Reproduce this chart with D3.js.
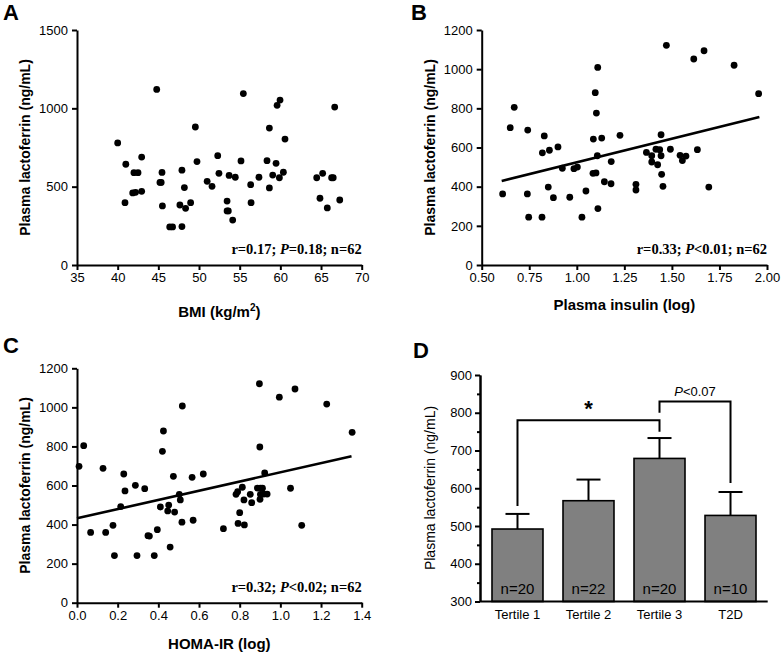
<!DOCTYPE html>
<html>
<head>
<meta charset="utf-8">
<script src="https://cdn.jsdelivr.net/npm/d3@7"></script>
<style>
body{margin:0;background:#fff;}
svg text{font-family:Arial,"Liberation Sans",sans-serif;}
.axis path,.axis line{stroke:#000;stroke-width:2;}
.axis text{font-size:13px;fill:#000;}
</style>
</head>
<body>
<svg id="fig" width="781" height="653"></svg>
<script>
// panel A: BMI vs lactoferrin
var bmiX = [44.8,49.55,40.0,41.0,42.95,42.0,42.5,45.45,49.75,47.9,52.3,52.45,45.2,45.35,48.2,51.0,51.6,41.85,42.2,42.95,40.9,45.5,47.65,48.35,48.97,46.4,46.75,47.9,
  55.45,59.96,59.6,66.68,58.65,60.57,55.16,58.36,59.47,53.7,54.46,57.37,59.06,60.37,59.88,56.35,58.65,64.47,65.2,66.3,66.5,53.45,53.45,53.6,56.4,54.14,64.87,65.77,67.3];
var bmiY = [1121,881,779,643,689,589,589,591,660,605,698,585,527,527,494,534,502,460,464,470,398,377,383,362,398,243,243,245,
  1094,1053,1019,1008,874,804,664,666,649,572,560,560,574,592,557,513,492,557,585,557,557,408,345,345,398,287,426,364,415];

// panel B: insulin (log) vs lactoferrin
var insX = [1.110,1.097,1.103,0.671,0.650,0.742,0.829,1.087,1.131,1.227,0.819,0.856,0.901,1.108,0.924,0.985,1.003,1.181,1.085,1.101,1.145,1.18,0.61,0.74,0.85,0.877,0.963,1.048,1.111,0.747,0.817,1.027,
  1.471,1.669,1.615,1.827,1.956,1.443,1.366,1.394,1.416,1.436,1.443,1.492,1.543,1.574,1.555,1.634,1.394,1.425,1.446,1.311,1.311,1.453,1.694];
var insY = [1009,880,776,805,701,689,659,643,648,662,573,586,603,558,494,492,500,528,468,470,425,415,363,363,398,344,346,378,288,244,244,244,
  1122,1094,1052,1020,875,665,575,558,591,589,558,591,560,556,533,589,526,512,463,412,383,402,398];
var insFitX = [0.605,1.96], insFitY = [429,756];

// panel C: HOMA-IR (log) vs lactoferrin
var homaX = [0.518,0.425,0.42,0.033,0.01,0.128,0.23,0.474,0.566,0.621,0.287,0.333,0.236,0.503,0.508,0.215,0.41,0.451,0.446,0.48,0.516,0.571,0.067,0.141,0.177,0.349,0.356,0.395,0.458,0.184,0.295,0.38,0.72,
  0.897,1.072,0.995,1.228,1.353,0.899,0.923,1.05,0.782,0.79,0.813,0.887,0.902,0.912,0.852,0.902,0.918,0.935,0.90,0.821,0.859,0.8,0.792,0.823,1.105];
var homaY = [1007,879,775,804,698,688,659,647,642,659,601,584,572,555,526,492,490,500,470,464,412,422,360,360,396,343,341,374,285,241,241,241,379,
  1121,1094,1052,1017,872,797,664,586,555,568,591,587,587,586,555,555,556,556,529,526,512,461,406,398,396];
var homaFitX = [0,1.35], homaFitY = [432,750];

// panel D: group means
var groups = ["Tertile 1","Tertile 2","Tertile 3","T2D"];
var means = [492,567,679,528];
var errTop = [532,623,733,590];
var nLabels = ["n=20","n=22","n=20","n=10"];

var svg = d3.select("#fig");

function scatter(o){
  var g = svg.append("g");
  var x = d3.scaleLinear().domain(o.xDomain).range([o.left, o.right]);
  var y = d3.scaleLinear().domain(o.yDomain).range([o.bottom, o.top]);

  g.append("g").attr("class","axis")
    .attr("transform","translate(0,"+o.bottom+")")
    .call(d3.axisBottom(x).tickValues(o.xTicks).tickFormat(o.xFmt).tickSize(5).tickSizeOuter(0).tickPadding(3));
  g.append("g").attr("class","axis")
    .attr("transform","translate("+o.left+",0)")
    .call(d3.axisLeft(y).tickValues(o.yTicks).tickFormat(d3.format("d")).tickSize(5).tickSizeOuter(0).tickPadding(4));

  g.selectAll("circle.pt").data(o.xs).enter().append("circle")
    .attr("class","pt")
    .attr("cx",function(d){return x(d);})
    .attr("cy",function(d,i){return y(o.ys[i]);})
    .attr("r",3.4).attr("fill","#000");

  if(o.fitX){
    g.append("line")
      .attr("x1",x(o.fitX[0])).attr("y1",y(o.fitY[0]))
      .attr("x2",x(o.fitX[1])).attr("y2",y(o.fitY[1]))
      .attr("stroke","#000").attr("stroke-width",2.6);
  }

  // y title
  g.append("text")
    .attr("transform","translate("+(o.left-52)+","+((o.top+o.bottom)/2)+") rotate(-90)")
    .attr("text-anchor","middle").attr("dy","0.35em")
    .style("font-size","14px").style("font-weight","bold")
    .text("Plasma lactoferrin (ng/mL)");

  // x title
  var xt = g.append("text")
    .attr("x",(o.left+o.right)/2).attr("y",o.xTitleY)
    .attr("text-anchor","middle")
    .style("font-size","15px").style("font-weight","bold");
  if(o.sup){
    xt.append("tspan").text(o.xTitle);
    xt.append("tspan").attr("dy",-6).style("font-size","10px").text(o.sup);
    xt.append("tspan").attr("dy",6).text(")");
  } else xt.text(o.xTitle);

  // stats note
  var st = g.append("text")
    .attr("x",o.right).attr("y",o.bottom-11)
    .attr("text-anchor","end")
    .style("font-family","'Liberation Serif','Times New Roman',serif")
    .style("font-size","14.5px").style("font-weight","bold");
  st.append("tspan").text(o.stat[0]);
  st.append("tspan").style("font-style","italic").text("P");
  st.append("tspan").text(o.stat[1]);

  svg.append("text").attr("x",o.letter[0]).attr("y",o.letter[1])
    .style("font-size","22px").style("font-weight","bold").text(o.letter[2]);
}

scatter({
  xs:bmiX, ys:bmiY, xDomain:[35,70], yDomain:[0,1500],
  left:77, right:361.7, top:30, bottom:265,
  xTicks:d3.range(35,71,5), xFmt:d3.format("d"), yTicks:[0,500,1000,1500],
  xTitle:"BMI (kg/m", sup:"2", xTitleY:317,
  stat:["r=0.17; ","=0.18; n=62"], letter:[3,20,"A"]
});
scatter({
  xs:insX, ys:insY, xDomain:[0.5,2.0], yDomain:[0,1200],
  left:481.7, right:767, top:30, bottom:265,
  xTicks:d3.range(0.5,2.01,0.25), xFmt:d3.format(".2f"), yTicks:d3.range(0,1201,200),
  fitX:insFitX, fitY:insFitY,
  xTitle:"Plasma insulin (log)", xTitleY:310,
  stat:["r=0.33; ","<0.01; n=62"], letter:[411,20,"B"]
});
scatter({
  xs:homaX, ys:homaY, xDomain:[0,1.4], yDomain:[0,1200],
  left:77, right:361.7, top:368.3, bottom:602.7,
  xTicks:d3.range(0,1.41,0.2), xFmt:d3.format(".1f"), yTicks:d3.range(0,1201,200),
  fitX:homaFitX, fitY:homaFitY,
  xTitle:"HOMA-IR (log)", xTitleY:649,
  stat:["r=0.32; ","<0.02; n=62"], letter:[3,353,"C"]
});

// panel D: bars
var gD = svg.append("g");
var xD = d3.scaleBand().domain(groups).range([480,768]).paddingInner(0.282).paddingOuter(0.169);
var yD = d3.scaleLinear().domain([300,900]).range([601.5,375]);

gD.selectAll("line.err").data(groups).enter().append("g").each(function(d,i){
  var cx = xD(d)+xD.bandwidth()/2;
  var s = d3.select(this);
  s.append("line").attr("x1",cx).attr("x2",cx).attr("y1",yD(means[i])).attr("y2",yD(errTop[i]))
    .attr("stroke","#000").attr("stroke-width",2);
  s.append("line").attr("x1",cx-12).attr("x2",cx+12).attr("y1",yD(errTop[i])).attr("y2",yD(errTop[i]))
    .attr("stroke","#000").attr("stroke-width",2);
});

gD.selectAll("rect").data(groups).enter().append("rect")
  .attr("x",function(d){return xD(d);})
  .attr("width",xD.bandwidth())
  .attr("y",function(d,i){return yD(means[i]);})
  .attr("height",function(d,i){return yD(300)-yD(means[i]);})
  .attr("fill","#808080").attr("stroke","#000").attr("stroke-width",1.6);

gD.selectAll("text.n").data(groups).enter().append("text")
  .attr("class","n")
  .attr("x",function(d){return xD(d)+xD.bandwidth()/2;})
  .attr("y",yD(300)-8)
  .attr("text-anchor","middle").style("font-size","15px").attr("fill","#000")
  .text(function(d,i){return nLabels[i];});

// minor ticks every 50
gD.append("g").attr("class","axis").attr("transform","translate(480,0)")
  .call(d3.axisLeft(yD).tickValues(d3.range(350,900,100)).tickSize(3).tickFormat("").tickSizeOuter(0));
gD.append("g").attr("class","axis").attr("transform","translate(480,0)")
  .call(d3.axisLeft(yD).tickValues(d3.range(300,901,100)).tickSize(5).tickSizeOuter(0).tickPadding(3));
var xaD = gD.append("g").attr("class","axis").attr("transform","translate(0,601.5)")
  .call(d3.axisBottom(xD).tickSize(0).tickSizeOuter(0).tickPadding(8));
xaD.select("path").attr("d","M480,0H767.7");

gD.append("text")
  .attr("transform","translate(430,488) rotate(-90)")
  .attr("text-anchor","middle").attr("dy","0.35em")
  .style("font-size","14px").text("Plasma lactoferrin (ng/mL)");

// significance brackets
function cxD(k){return xD(groups[k])+xD.bandwidth()/2;}
var br = gD.append("g").attr("fill","none").attr("stroke","#000").attr("stroke-width",2);
br.append("path").attr("d","M"+cxD(0)+","+yD(553)+"V"+yD(780)+"H"+cxD(2)+"V"+yD(750));
br.append("path").attr("d","M"+cxD(2)+","+yD(800)+"V"+yD(830)+"H"+cxD(3)+"V"+yD(614));
gD.append("text").attr("x",(cxD(0)+cxD(2))/2).attr("y",yD(780)-4)
  .attr("text-anchor","middle").style("font-size","22px").style("font-weight","bold").text("*");
var pt = gD.append("text").attr("x",(cxD(2)+cxD(3))/2).attr("y",yD(830)-5)
  .attr("text-anchor","middle").style("font-size","13px");
pt.append("tspan").style("font-style","italic").text("P");
pt.append("tspan").text("<0.07");

svg.append("text").attr("x",413).attr("y",358)
  .style("font-size","22px").style("font-weight","bold").text("D");
</script>
</body>
</html>
